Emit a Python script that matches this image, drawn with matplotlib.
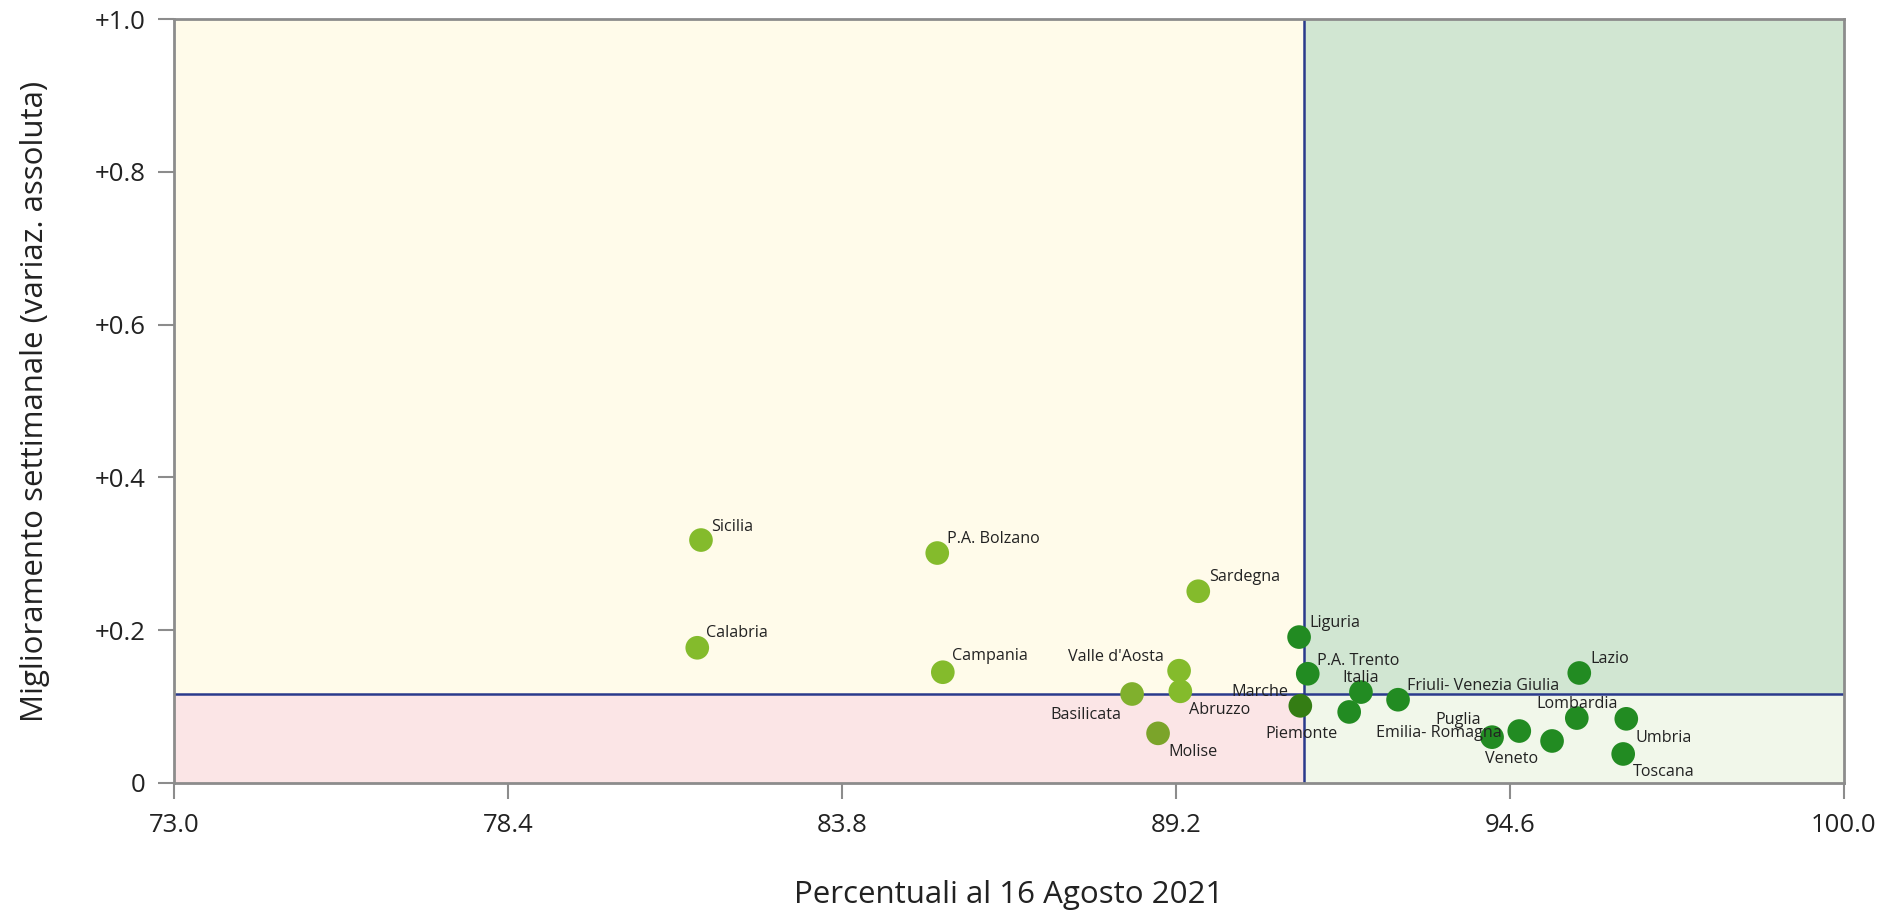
import matplotlib
matplotlib.use("Agg")
import matplotlib.pyplot as plt
from matplotlib.patches import Rectangle

plt.rcParams['font.family'] = ['Open Sans', 'DejaVu Sans']

regions = ["Sicilia", "Calabria", "P.A. Bolzano", "Campania", "Sardegna",
           "Valle d'Aosta", "Abruzzo", "Basilicata", "Molise", "Liguria",
           "P.A. Trento", "Marche", "Italia", "Piemonte", "Friuli- Venezia Giulia",
           "Puglia", "Emilia- Romagna", "Veneto", "Lombardia", "Lazio",
           "Umbria", "Toscana"]
pct = [81.52, 81.46, 85.34, 85.43, 89.56,
       89.25, 89.27, 88.49, 88.91, 91.19,
       91.33, 91.21, 92.19, 92.00, 92.79,
       94.31, 94.75, 95.28, 95.68, 95.72,
       96.48, 96.43]
improv = [0.318, 0.177, 0.301, 0.145, 0.251,
          0.147, 0.120, 0.1165, 0.065, 0.191,
          0.143, 0.101, 0.119, 0.093, 0.109,
          0.060, 0.068, 0.055, 0.085, 0.144,
          0.084, 0.038]
x_threshold = 91.27
y_threshold = 0.1165
x_ticks = [73.0, 78.4, 83.8, 89.2, 94.6, 100.0]
y_ticks = [0, 0.2, 0.4, 0.6, 0.8, 1.0]
y_ticklabels = ["0", "+0.2", "+0.4", "+0.6", "+0.8", "+1.0"]

LG = "#84bb2c"
DG = "#228b22"
colors = [LG, LG, LG, LG, LG,
          LG, LG, "#80b02d", "#7ba42a", DG,
          DG, "#347d14", DG, DG, DG,
          DG, DG, DG, DG, DG,
          DG, DG]

# label placement: (dx, dy) in display pixels of the original, ha
label_pos = [(10, 13, 'left'), (9, 15, 'left'), (10, 14, 'left'), (9, 16, 'left'), (11, 14, 'left'),
             (-15, 14, 'right'), (9, -19, 'left'), (-11, -21, 'right'), (10, -19, 'left'), (10, 14, 'left'),
             (9, 13, 'left'), (-12, 14, 'right'), (0, 14, 'center'), (-12, -22, 'right'), (9, 14, 'left'),
             (-11, 17, 'right'), (-18, -2, 'right'), (-14, -18, 'right'), (0, 14, 'center'), (11, 14, 'left'),
             (9, -19, 'left'), (10, -18, 'left')]

W, H = 1885, 916
fig = plt.figure(figsize=(W / 100, H / 100), dpi=100)
ax = fig.add_axes([174 / W, 1 - 783 / H, (1844 - 174) / W, (783 - 19) / H])

xmin, xmax = x_ticks[0], x_ticks[-1]
ymin, ymax = y_ticks[0], y_ticks[-1]
ax.set_xlim(xmin, xmax)
ax.set_ylim(ymin, ymax)

ax.add_patch(Rectangle((xmin, y_threshold), x_threshold - xmin, ymax - y_threshold, color="#fffbea", zorder=0, lw=0))
ax.add_patch(Rectangle((x_threshold, y_threshold), xmax - x_threshold, ymax - y_threshold, color="#d1e6d2", zorder=0, lw=0))
ax.add_patch(Rectangle((xmin, ymin), x_threshold - xmin, y_threshold - ymin, color="#fbe5e6", zorder=0, lw=0))
ax.add_patch(Rectangle((x_threshold, ymin), xmax - x_threshold, y_threshold - ymin, color="#f1f7ea", zorder=0, lw=0))

ax.axvline(x_threshold, color="#2a3a8c", lw=1.8, zorder=1)
ax.axhline(y_threshold, color="#2a3a8c", lw=1.8, zorder=1)

ax.scatter(pct, improv, s=290, c=colors, edgecolors='none', zorder=3)

px2pt = 0.72
for name, x, y, (dx, dy, ha) in zip(regions, pct, improv, label_pos):
    ax.annotate(name, (x, y), xytext=(dx * px2pt, dy * px2pt), textcoords='offset points',
                ha=ha, va='center', fontsize=11.6, color="#222222", zorder=4)

ax.set_xticks(x_ticks)
ax.set_xticklabels([f"{v:.1f}" for v in x_ticks])
ax.set_yticks(y_ticks)
ax.set_yticklabels(y_ticklabels)
ax.tick_params(axis='both', direction='out', length=11.5, width=1.5, color="#8c8c8c",
               labelsize=18.5, labelcolor="#222222")
ax.tick_params(axis='x', pad=10)
ax.tick_params(axis='y', pad=9)
for sp in ax.spines.values():
    sp.set_color("#8c8c8c")
    sp.set_linewidth(2)

ax.set_xlabel("Percentuali al 16 Agosto 2021", fontsize=22.5, color="#222222", labelpad=30)
ax.set_ylabel("Miglioramento settimanale (variaz. assoluta)", fontsize=22.5, color="#222222", labelpad=32)

fig.savefig("out.png", dpi=100)
